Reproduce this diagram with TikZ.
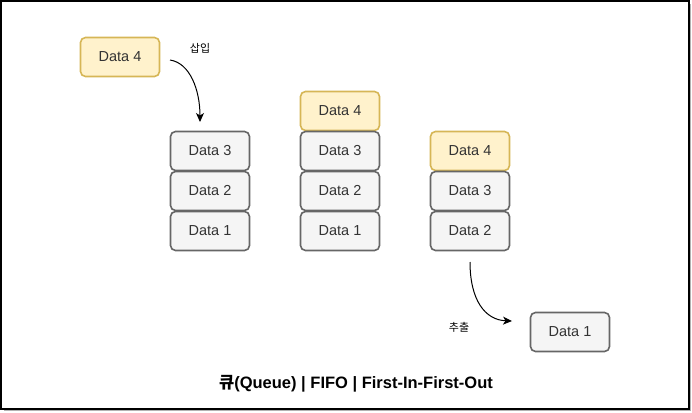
\documentclass[tikz,border=0pt]{standalone}
\usepackage{fontspec}
\setmainfont{Liberation Sans}
\newfontfamily\cjk{Noto Sans CJK KR}
\usetikzlibrary{arrows.meta}
\definecolor{ylfill}{HTML}{FFF2CC}
\definecolor{yldraw}{HTML}{D6B656}
\definecolor{gyfill}{HTML}{F5F5F5}
\definecolor{gydraw}{HTML}{666666}
\definecolor{txt}{HTML}{333333}
\tikzset{
  box/.style={rounded corners=5pt, line width=1.6pt, minimum width=79pt, minimum height=39pt, inner sep=0pt, font=\fontsize{14.5pt}{16pt}\selectfont, text=txt},
  ybox/.style={box, fill=ylfill, draw=yldraw},
  gbox/.style={box, fill=gyfill, draw=gydraw},
  lbl/.style={font=\cjk\fontsize{11pt}{12pt}\selectfont, inner sep=0pt},
  arr/.style={line width=1pt, -{Stealth[length=9pt,width=8pt,inset=2.5pt]}}
}
\begin{document}
\begin{tikzpicture}[x=1pt,y=-1pt]
\useasboundingbox (0,0) rectangle (692,412);
\fill[white] (0,0) rectangle (692,412);
\draw[gray!60, line width=1pt] (4,410.5) -- (690.5,410.5) -- (690.5,4);
\draw[black, line width=2pt] (1,1) rectangle (689,409);
% left
\node[ybox] (d4a) at (120,57) {Data 4};
% stack 1
\node[gbox] (s1c) at (210,151) {Data 3};
\node[gbox] (s1b) at (210,191) {Data 2};
\node[gbox] (s1a) at (210,231) {Data 1};
% stack 2
\node[ybox] (s2d) at (340,111) {Data 4};
\node[gbox] (s2c) at (340,151) {Data 3};
\node[gbox] (s2b) at (340,191) {Data 2};
\node[gbox] (s2a) at (340,231) {Data 1};
% stack 3
\node[ybox] (s3d) at (470,151) {Data 4};
\node[gbox] (s3c) at (470,191) {Data 3};
\node[gbox] (s3b) at (470,231) {Data 2};
% removed
\node[gbox] (out) at (570,332) {Data 1};
% arrows
\coordinate (a1s) at (170,60);
\coordinate (a1e) at (200,122);
\draw[arr] (a1s) .. controls (190,63) and (200,90) .. (a1e);
\node[lbl] (l1) at (200,48) {삽입};
\coordinate (a2s) at (470,262);
\coordinate (a2e) at (512,321);
\draw[arr] (a2s) .. controls (470,300) and (485,320) .. (a2e);
\node[lbl] (l2) at (459,327) {추출};
% title
\node[font=\bfseries\fontsize{16.5pt}{18pt}\selectfont, inner sep=0pt] (title) at (356,384) {{\cjk 큐}(Queue) | FIFO | First-In-First-Out};
\end{tikzpicture}
\end{document}
